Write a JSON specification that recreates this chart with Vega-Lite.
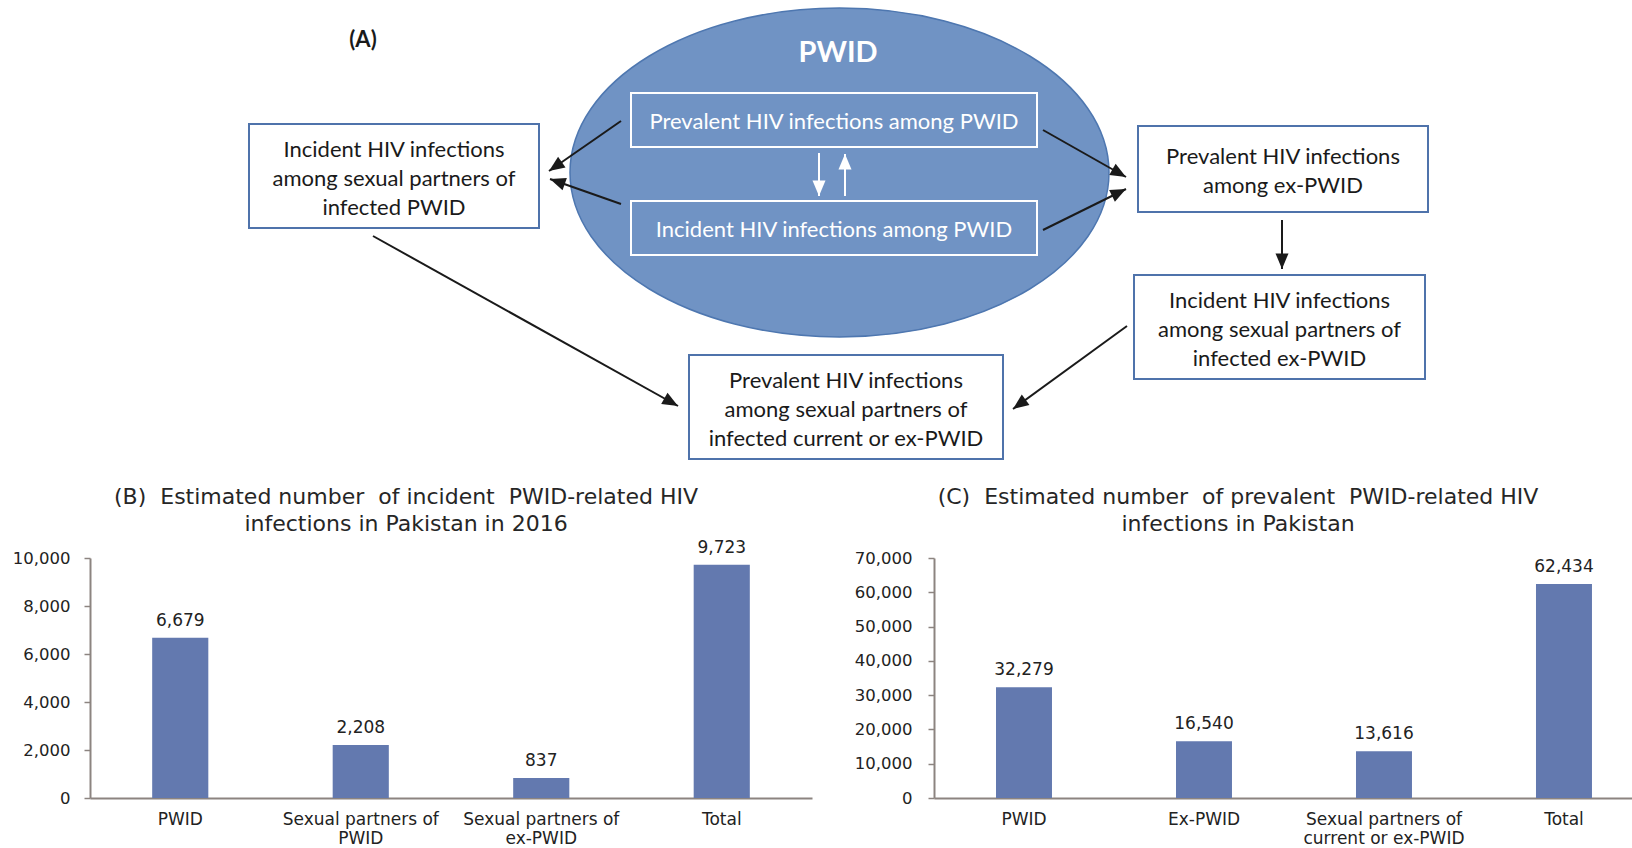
{
  "$schema": "https://vega.github.io/schema/vega-lite/v6.json",
  "padding": {"left": 12, "top": 0, "right": 0, "bottom": 0},
  "background": "white",
  "config": {"view": {"stroke": null}, "font": "DejaVu Sans"},
  "spacing": 9,
  "datasets": {
    "boxes": [
      {"x1": 631, "x2": 1037, "y1": 93, "y2": 147, "kind": "inner", "label": "Prevalent HIV infections among PWID"},
      {"x1": 631, "x2": 1037, "y1": 201, "y2": 255, "kind": "inner", "label": "Incident HIV infections among PWID"},
      {"x1": 249, "x2": 539, "y1": 124, "y2": 228, "kind": "outer", "label": "Incident HIV infections|among sexual partners of|infected PWID"},
      {"x1": 1138, "x2": 1428, "y1": 126, "y2": 212, "kind": "outer", "label": "Prevalent HIV infections|among ex-PWID"},
      {"x1": 1134, "x2": 1425, "y1": 275, "y2": 379, "kind": "outer", "label": "Incident HIV infections|among sexual partners of|infected ex-PWID"},
      {"x1": 689, "x2": 1003, "y1": 355, "y2": 459, "kind": "outer", "label": "Prevalent HIV infections|among sexual partners of|infected current or ex-PWID"}
    ],
    "arrows": [
      {"x1": 621, "y1": 121, "x2": 549, "y2": 171, "kind": "outer"},
      {"x1": 621, "y1": 204, "x2": 550, "y2": 179, "kind": "outer"},
      {"x1": 1043, "y1": 130, "x2": 1126, "y2": 177, "kind": "outer"},
      {"x1": 1043, "y1": 230, "x2": 1126, "y2": 189, "kind": "outer"},
      {"x1": 1282, "y1": 220, "x2": 1282, "y2": 269, "kind": "outer"},
      {"x1": 1127, "y1": 326, "x2": 1013, "y2": 409, "kind": "outer"},
      {"x1": 373, "y1": 236, "x2": 678, "y2": 406, "kind": "outer"},
      {"x1": 819, "y1": 153, "x2": 819, "y2": 196, "kind": "inner"},
      {"x1": 845, "y1": 196, "x2": 845, "y2": 154, "kind": "inner"}
    ]
  },
  "vconcat": [
    {
      "width": 1542,
      "height": 476,
      "layer": [
        {
          "data": {"values": [{"name": "PWID", "cx": 839.5, "cy": 172.5}]},
          "mark": {"type": "point", "shape": "M-1,0 C-1,-0.3369 -0.5523,-0.61 0,-0.61 C0.5523,-0.61 1,-0.3369 1,0 C1,0.3369 0.5523,0.61 0,0.61 C-0.5523,0.61 -1,0.3369 -1,0 Z", "size": 290521, "filled": true, "fill": "#7093c4", "stroke": "#4e77b0", "strokeWidth": 1.5, "opacity": 1, "fillOpacity": 1},
          "encoding": {
            "x": {"field": "cx", "type": "quantitative", "scale": {"domain": [90, 1632], "nice": false, "zero": false}, "axis": null},
            "y": {"field": "cy", "type": "quantitative", "scale": {"domain": [0, 476], "nice": false, "zero": false, "reverse": true}, "axis": null}
          }
        },
        {
          "data": {"name": "boxes"},
          "transform": [{"filter": "datum.kind == 'inner'"}],
          "mark": {"type": "rect", "fillOpacity": 0, "stroke": "white", "strokeWidth": 2},
          "encoding": {
            "x": {"field": "x1", "type": "quantitative", "scale": {"domain": [90, 1632], "nice": false, "zero": false}, "axis": null},
            "x2": {"field": "x2"},
            "y": {"field": "y1", "type": "quantitative", "scale": {"domain": [0, 476], "nice": false, "zero": false, "reverse": true}, "axis": null},
            "y2": {"field": "y2"}
          }
        },
        {
          "data": {"name": "boxes"},
          "transform": [{"filter": "datum.kind == 'outer'"}],
          "mark": {"type": "rect", "fill": "white", "stroke": "#4f73ab", "strokeWidth": 2},
          "encoding": {
            "x": {"field": "x1", "type": "quantitative", "scale": {"domain": [90, 1632], "nice": false, "zero": false}, "axis": null},
            "x2": {"field": "x2"},
            "y": {"field": "y1", "type": "quantitative", "scale": {"domain": [0, 476], "nice": false, "zero": false, "reverse": true}, "axis": null},
            "y2": {"field": "y2"}
          }
        },
        {
          "data": {"name": "boxes"},
          "transform": [
            {"calculate": "(datum.x1 + datum.x2) / 2", "as": "cx"},
            {"calculate": "(datum.y1 + datum.y2) / 2 + 1.5 - 13.75 * (length(split(datum.label, '|')) - 1)", "as": "cy"}
          ],
          "mark": {"type": "text", "font": "Lato", "fontSize": 22, "lineBreak": "|", "lineHeight": 29, "align": "center", "baseline": "middle"},
          "encoding": {
            "x": {"field": "cx", "type": "quantitative", "scale": {"domain": [90, 1632], "nice": false, "zero": false}, "axis": null},
            "y": {"field": "cy", "type": "quantitative", "scale": {"domain": [0, 476], "nice": false, "zero": false, "reverse": true}, "axis": null},
            "text": {"field": "label"},
            "color": {"field": "kind", "type": "nominal", "scale": {"domain": ["inner", "outer"], "range": ["#ffffff", "#1a1a1a"]}, "legend": null}
          }
        },
        {
          "data": {"name": "arrows"},
          "mark": {"type": "rule", "strokeWidth": 2},
          "encoding": {
            "x": {"field": "x1", "type": "quantitative", "scale": {"domain": [90, 1632], "nice": false, "zero": false}, "axis": null},
            "y": {"field": "y1", "type": "quantitative", "scale": {"domain": [0, 476], "nice": false, "zero": false, "reverse": true}, "axis": null},
            "x2": {"field": "x2"},
            "y2": {"field": "y2"},
            "color": {"field": "kind", "type": "nominal", "scale": {"domain": ["inner", "outer"], "range": ["#ffffff", "#1a1a1a"]}, "legend": null}
          }
        },
        {
          "data": {"name": "arrows"},
          "transform": [{"calculate": "atan2(datum.x2 - datum.x1, datum.y1 - datum.y2) * 180 / PI", "as": "ang"}],
          "mark": {"type": "point", "shape": "M0,0 L1,2.4 L-1,2.4 Z", "size": 169, "filled": true, "opacity": 1},
          "encoding": {
            "x": {"field": "x2", "type": "quantitative", "scale": {"domain": [90, 1632], "nice": false, "zero": false}, "axis": null},
            "y": {"field": "y2", "type": "quantitative", "scale": {"domain": [0, 476], "nice": false, "zero": false, "reverse": true}, "axis": null},
            "angle": {"field": "ang", "type": "quantitative", "scale": null},
            "color": {"field": "kind", "type": "nominal", "scale": {"domain": ["inner", "outer"], "range": ["#ffffff", "#1a1a1a"]}, "legend": null}
          }
        },
        {
          "data": {"values": [{"label": "(A)", "x": 363, "y": 40}]},
          "mark": {"type": "text", "font": "Lato", "fontSize": 22, "fontWeight": "bold", "color": "#1a1a1a", "align": "center", "baseline": "middle"},
          "encoding": {
            "x": {"field": "x", "type": "quantitative", "scale": {"domain": [90, 1632], "nice": false, "zero": false}, "axis": null},
            "y": {"field": "y", "type": "quantitative", "scale": {"domain": [0, 476], "nice": false, "zero": false, "reverse": true}, "axis": null},
            "text": {"field": "label"}
          }
        },
        {
          "data": {"values": [{"label": "PWID", "x": 838, "y": 53}]},
          "mark": {"type": "text", "font": "Lato", "fontSize": 29, "fontWeight": "bold", "color": "#ffffff", "align": "center", "baseline": "middle"},
          "encoding": {
            "x": {"field": "x", "type": "quantitative", "scale": {"domain": [90, 1632], "nice": false, "zero": false}, "axis": null},
            "y": {"field": "y", "type": "quantitative", "scale": {"domain": [0, 476], "nice": false, "zero": false, "reverse": true}, "axis": null},
            "text": {"field": "label"}
          }
        }
      ]
    },
    {
      "spacing": 42,
      "hconcat": [
        {
          "width": 722,
          "height": 240,
          "title": {"text": ["(B)\u00a0 Estimated number\u00a0 of incident\u00a0 PWID-related HIV", "infections in Pakistan in 2016"], "font": "DejaVu Sans", "fontSize": 22, "fontWeight": "normal", "lineHeight": 27, "color": "#262626", "offset": 3, "frame": "group", "anchor": "middle", "dx": -45},
          "data": {"values": [
            {"group": "PWID", "count": 6679},
            {"group": "Sexual partners of PWID", "count": 2208},
            {"group": "Sexual partners of ex-PWID", "count": 837},
            {"group": "Total", "count": 9723}
          ]},
          "encoding": {
            "x": {"field": "group", "type": "nominal", "sort": null, "scale": {"paddingInner": 0.689, "paddingOuter": 0.3445},
              "axis": {"title": null, "labelAngle": 0, "ticks": false, "domainColor": "#8c8480", "domainWidth": 2, "labelFont": "DejaVu Sans", "labelFontSize": 17, "labelColor": "#222222", "labelPadding": 13, "labelLineHeight": 19.5, "labelLimit": 400, "labelOverlap": false, "labelExpr": "split(replace(datum.value, ' of ', ' of|'), '|')"}},
            "y": {"field": "count", "type": "quantitative", "scale": {"domain": [0, 10000], "nice": false},
              "axis": {"title": null, "grid": false, "values": [0, 2000, 4000, 6000, 8000, 10000], "format": ",.0f", "domainColor": "#8c8480", "domainWidth": 2, "tickColor": "#8c8480", "tickSize": 6, "tickWidth": 1.5, "labelFont": "DejaVu Sans", "labelFontSize": 16.5, "labelColor": "#222222", "labelPadding": 14, "minExtent": 78, "maxExtent": 78}}
          },
          "layer": [
            {"mark": {"type": "bar", "color": "#6379af"}},
            {"mark": {"type": "text", "baseline": "alphabetic", "dy": -12, "font": "DejaVu Sans", "fontSize": 17, "color": "#222222"},
             "encoding": {"text": {"field": "count", "type": "quantitative", "format": ","}}}
          ]
        },
        {
          "width": 700,
          "height": 240,
          "title": {"text": ["(C)\u00a0 Estimated number\u00a0 of prevalent\u00a0 PWID-related HIV", "infections in Pakistan"], "font": "DejaVu Sans", "fontSize": 22, "fontWeight": "normal", "lineHeight": 27, "color": "#262626", "offset": 14, "frame": "group", "anchor": "middle", "dx": -46},
          "data": {"values": [
            {"group": "PWID", "count": 32279},
            {"group": "Ex-PWID", "count": 16540},
            {"group": "Sexual partners of current or ex-PWID", "count": 13616},
            {"group": "Total", "count": 62434}
          ]},
          "encoding": {
            "x": {"field": "group", "type": "nominal", "sort": null, "scale": {"paddingInner": 0.689, "paddingOuter": 0.289, "align": 0.596},
              "axis": {"title": null, "labelAngle": 0, "ticks": false, "domainColor": "#8c8480", "domainWidth": 2, "labelFont": "DejaVu Sans", "labelFontSize": 17, "labelColor": "#222222", "labelPadding": 13, "labelLineHeight": 19.5, "labelLimit": 400, "labelOverlap": false, "labelExpr": "split(replace(datum.value, ' of ', ' of|'), '|')"}},
            "y": {"field": "count", "type": "quantitative", "scale": {"domain": [0, 70000], "nice": false},
              "axis": {"title": null, "grid": false, "values": [0, 10000, 20000, 30000, 40000, 50000, 60000, 70000], "format": ",.0f", "domainColor": "#8c8480", "domainWidth": 2, "tickColor": "#8c8480", "tickSize": 6, "tickWidth": 1.5, "labelFont": "DejaVu Sans", "labelFontSize": 16.5, "labelColor": "#222222", "labelPadding": 16, "minExtent": 78, "maxExtent": 78}}
          },
          "layer": [
            {"mark": {"type": "bar", "color": "#6379af"}},
            {"mark": {"type": "text", "baseline": "alphabetic", "dy": -12, "font": "DejaVu Sans", "fontSize": 17, "color": "#222222"},
             "encoding": {"text": {"field": "count", "type": "quantitative", "format": ","}}}
          ]
        }
      ]
    }
  ]
}
